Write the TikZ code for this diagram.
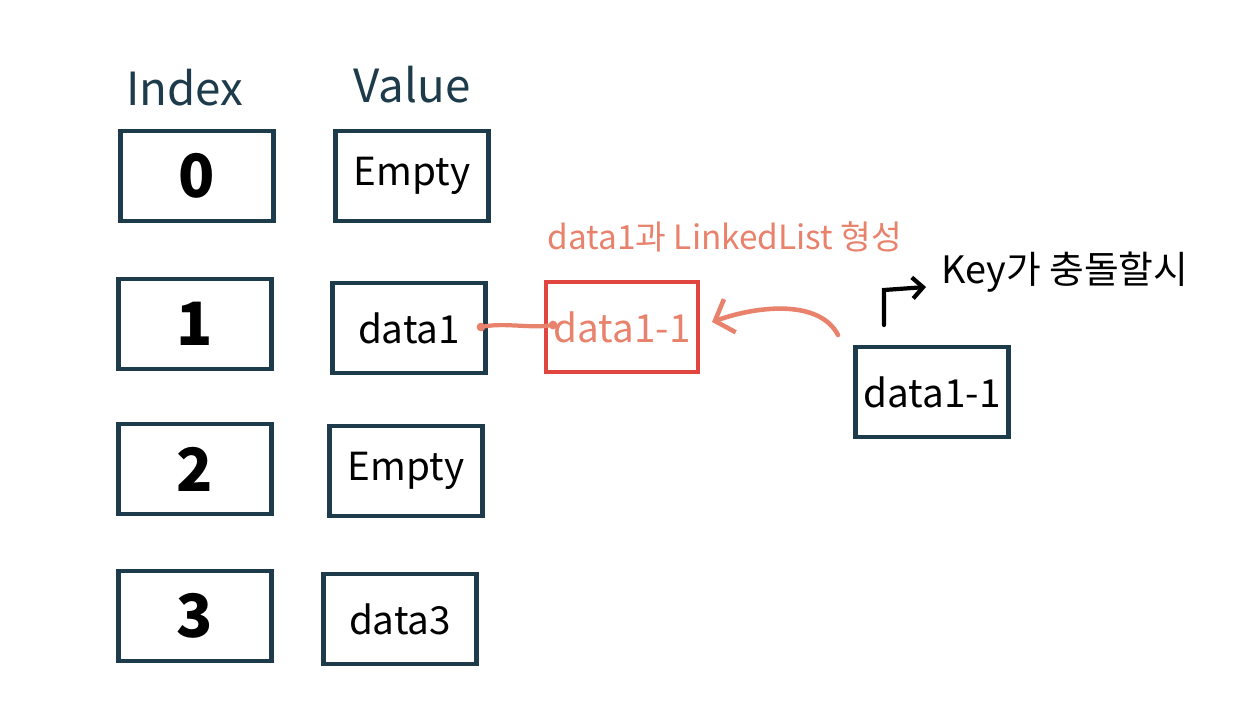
\documentclass[tikz,border=0pt]{standalone}
\usepackage{fontspec}
\setmainfont{Noto Sans CJK KR}
\usetikzlibrary{arrows.meta}
\definecolor{boxc}{HTML}{1D3B4A}
\definecolor{redc}{HTML}{E0463F}
\definecolor{salmon}{HTML}{E8826C}
\tikzset{
  cell/.style={draw=boxc, line width=2.6pt, minimum width=3.05cm, minimum height=1.8cm, inner sep=0pt},
  idx/.style={cell, font=\fontsize{34}{34}\selectfont\bfseries},
  val/.style={cell, font=\fontsize{22}{22}\selectfont},
  head/.style={font=\fontsize{26}{26}\selectfont, text=boxc},
  redbox/.style={draw=redc, line width=2pt, minimum width=3.05cm, minimum height=1.8cm, text=salmon, font=\fontsize{22}{22}\selectfont},
  note/.style={text=salmon, font=\fontsize{19}{19}\selectfont},
  dotc/.style={circle, fill=salmon, inner sep=0pt, minimum size=5pt},
}
\begin{document}
\begin{tikzpicture}[x=0.02cm, y=-0.02cm]
\useasboundingbox (0,0) rectangle (1247,727);
\node[head] (hidx) at (185,88) {Index};
\node[head] (hval) at (412,85) {Value};
\node[idx] (i0) at (197,176) {0};
\node[idx] (i1) at (195,324) {1};
\node[idx] (i2) at (195,469) {2};
\node[idx] (i3) at (195,616) {3};
\node[val] (v0) at (412,176) {Empty};
\node[val] (v1) at (409,328) {data1};
\node[val] (v2) at (406,471) {Empty};
\node[val] (v3) at (400,619) {data3};
\node[redbox] (r1) at (622,327) {data1-1};
\node[val] (n1) at (932,392) {data1-1};
\node[note] (lbl) at (725,237) {data1과 LinkedList 형성};
\node[font=\fontsize{21.5}{21.5}\selectfont, anchor=west] (key) at (935,272) {Key가 충돌할시};
\node[dotc] (d1) at (481,327) {};
\node[dotc] (d2) at (553,325) {};
\draw[salmon, line width=2.4pt, line cap=round] (d1) .. controls (505,323) and (530,328) .. (d2);
\coordinate (ca) at (838,335);
\coordinate (cb) at (712,322);
\draw[salmon, line width=2.6pt, line cap=round, -{Straight Barb[length=9pt, width=20pt]}] (ca) .. controls (820,300) and (760,305) .. (cb);
\coordinate (ka) at (884,325);
\coordinate (kb) at (926,287);
\draw[black, line width=2.4pt, line cap=round, -{Straight Barb[length=6pt, width=12pt]}] (ka) -- (884,290) -- (kb);
\end{tikzpicture}
\end{document}
